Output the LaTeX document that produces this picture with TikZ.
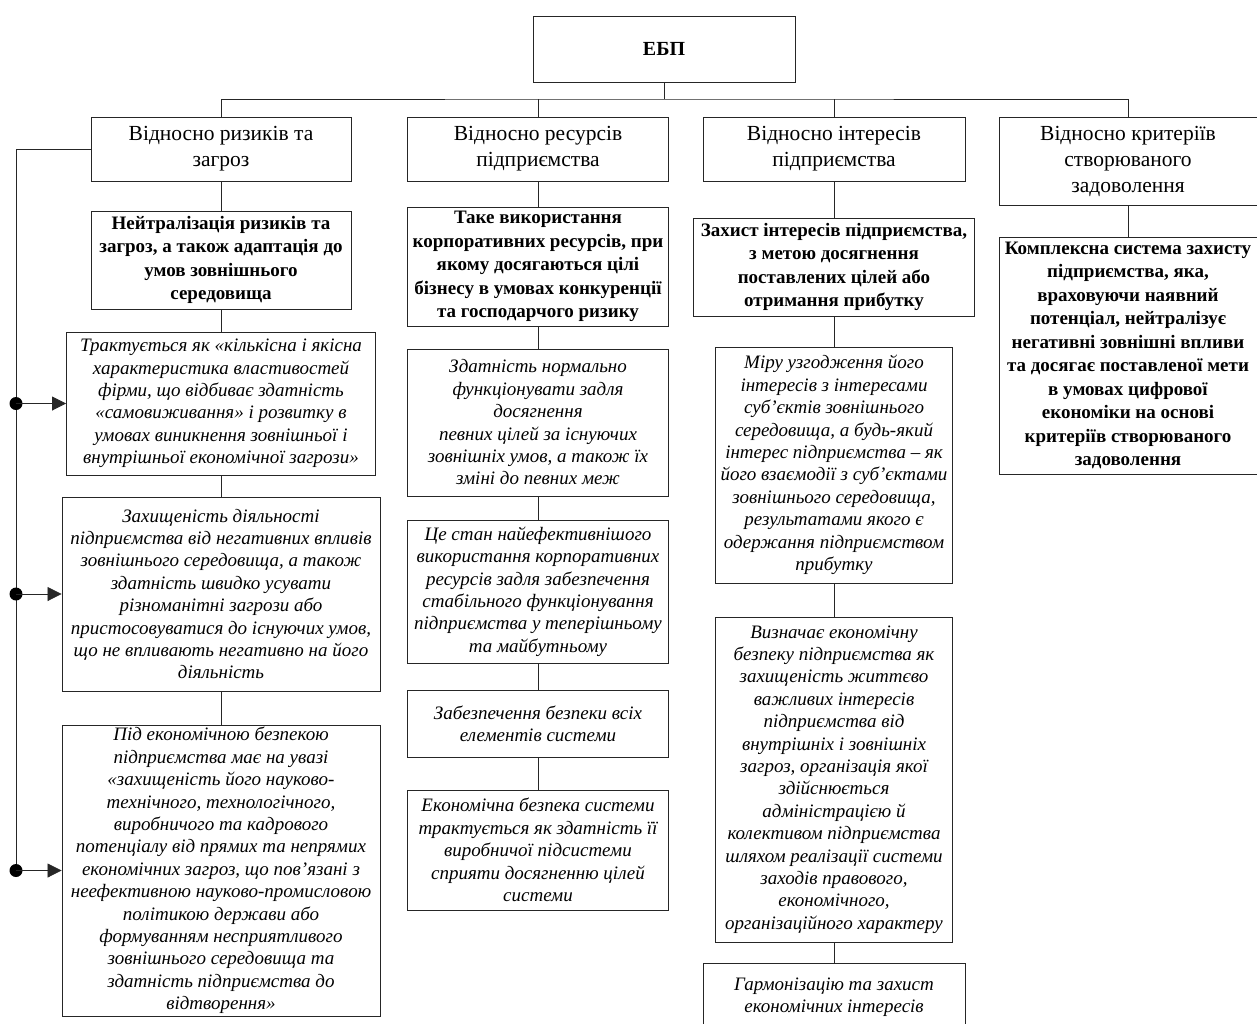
\documentclass[tikz,border=0pt]{standalone}
\usepackage{fontspec}
\setmainfont{Liberation Serif}
\usetikzlibrary{arrows.meta}
\newcommand{\sapos}{{\char"0027}}
\begin{document}
\begin{tikzpicture}[x=1pt,y=-1pt,
  box/.style={draw=black!85, line width=0.9pt, align=center, inner sep=2pt, fill=white},
  hdr/.style={box, font=\fontsize{21.5}{26}\selectfont},
  bbox/.style={box, font=\fontsize{19}{23.5}\selectfont\bfseries},
  ibox/.style={box, font=\fontsize{19}{22.4}\selectfont\itshape},
  wire/.style={draw=black!85, line width=0.8pt},
  arr/.style={wire, -{Triangle[length=14pt,width=14pt]}},
  dot/.style={circle, fill=black, inner sep=0pt, minimum size=13pt}]
\useasboundingbox (0,0) rectangle (1257,1023);
\clip (0,0) rectangle (1257,1023);
\fill[white] (0,0) rectangle (1257,1023);

% top
\node[box, font=\fontsize{20}{24}\selectfont\bfseries, minimum width=262pt, minimum height=66pt] (ebp) at (664,49) {ЕБП};

% headers
\node[hdr, minimum width=260pt, minimum height=64pt] (h1) at (221,149) {Відносно ризиків та\\загроз};
\node[hdr, minimum width=261pt, minimum height=64pt] (h2) at (538,149) {Відносно ресурсів\\підприємства};
\node[hdr, minimum width=262pt, minimum height=64pt] (h3) at (834,149) {Відносно інтересів\\підприємства};
\node[hdr, minimum width=258pt, minimum height=88pt] (h4) at (1128,161) {Відносно критеріїв\\створюваного\\задоволення};

\coordinate (bus) at (664,99);
\draw[wire] (ebp.south) -- (bus);
\draw[wire] (h1.north) |- (bus) -| (h4.north);
\draw[wire] (h2.north) -- (h2.north |- bus);
\draw[wire] (h3.north) -- (h3.north |- bus);

% column 1
\node[bbox, minimum width=260pt, minimum height=98pt] (c1a) at (221,260) {Нейтралізація ризиків та\\загроз, а також адаптація до\\умов зовнішнього\\середовища};
\node[ibox, minimum width=309pt, minimum height=143pt] (c1b) at (221,403.5) {Трактується як «кількісна і якісна\\характеристика властивостей\\фірми, що відбиває здатність\\«самовиживання» і розвитку в\\умовах виникнення зовнішньої і\\внутрішньої економічної загрози»};
\node[ibox, minimum width=318pt, minimum height=194pt] (c1c) at (221,594) {Захищеність діяльності\\підприємства від негативних впливів\\зовнішнього середовища, а також\\здатність швидко усувати\\різноманітні загрози або\\пристосовуватися до існуючих умов,\\що не впливають негативно на його\\діяльність};
\node[ibox, minimum width=318pt, minimum height=291pt] (c1d) at (221,870.5) {Під економічною безпекою\\підприємства має на увазі\\«захищеність його науково-\\технічного, технологічного,\\виробничого та кадрового\\потенціалу від прямих та непрямих\\економічних загроз, що пов’язані з\\неефективною науково-промисловою\\політикою держави або\\формуванням несприятливого\\зовнішнього середовища та\\здатність підприємства до\\відтворення»};
\draw[wire] (h1.south) -- (c1a.north);
\draw[wire] (c1a.south) -- (c1b.north);
\draw[wire] (c1b.south) -- (c1c.north);
\draw[wire] (c1c.south) -- (c1d.north);

% left bracket
\coordinate (lt) at (16,149);
\path (c1b.west -| lt) coordinate (d1);
\path (c1c.west -| lt) coordinate (d2);
\path (c1d.west -| lt) coordinate (d3);
\draw[wire] (h1.west) -- (lt) -- (d3);
\node[dot] (dd1) at (d1) {};
\node[dot] (dd2) at (d2) {};
\node[dot] (dd3) at (d3) {};
\draw[arr] (dd1.center) -- (c1b.west);
\draw[arr] (dd2.center) -- (c1c.west);
\draw[arr] (dd3.center) -- (c1d.west);

% column 2
\node[bbox, minimum width=261pt, minimum height=119pt] (c2a) at (538,266.5) {Таке використання\\корпоративних ресурсів, при\\якому досягаються цілі\\бізнесу в умовах конкуренції\\та господарчого ризику};
\node[ibox, minimum width=261pt, minimum height=147pt] (c2b) at (538,422.5) {Здатність нормально\\функціонувати задля\\досягнення\\певних цілей за існуючих\\зовнішніх умов, а також їх\\зміні до певних меж};
\node[ibox, minimum width=261pt, minimum height=143pt] (c2c) at (538,591.5) {Це стан найефективнішого\\використання корпоративних\\ресурсів задля забезпечення\\стабільного функціонування\\підприємства у теперішньому\\та майбутньому};
\node[ibox, minimum width=261pt, minimum height=67pt] (c2d) at (538,723.5) {Забезпечення безпеки всіх\\елементів системи};
\node[ibox, minimum width=261pt, minimum height=120pt] (c2e) at (538,850) {Економічна безпека системи\\трактується як здатність її\\виробничої підсистеми\\сприяти досягненню цілей\\системи};
\draw[wire] (h2.south) -- (c2a.north);
\draw[wire] (c2a.south) -- (c2b.north);
\draw[wire] (c2b.south) -- (c2c.north);
\draw[wire] (c2c.south) -- (c2d.north);
\draw[wire] (c2d.south) -- (c2e.north);

% column 3
\node[bbox, minimum width=281pt, minimum height=98pt] (c3a) at (834,267) {Захист інтересів підприємства,\\з метою досягнення\\поставлених цілей або\\отримання прибутку};
\node[ibox, minimum width=237pt, minimum height=236pt] (c3b) at (834,465) {Міру узгодження його\\інтересів з інтересами\\суб\sapos єктів зовнішнього\\середовища, а будь-який\\інтерес підприємства – як\\його взаємодії з суб\sapos єктами\\зовнішнього середовища,\\результатами якого є\\одержання підприємством\\прибутку};
\node[ibox, minimum width=237pt, minimum height=325pt] (c3c) at (834,779.5) {Визначає економічну\\безпеку підприємства як\\захищеність життєво\\важливих інтересів\\підприємства від\\внутрішніх і зовнішніх\\загроз, організація якої\\здійснюється\\адміністрацією й\\колективом підприємства\\шляхом реалізації системи\\заходів правового,\\економічного,\\організаційного характеру};
\node[ibox, minimum width=262pt, minimum height=68pt] (c3d) at (834,997) {Гармонізацію та захист\\економічних інтересів};
\draw[wire] (h3.south) -- (c3a.north);
\draw[wire] (c3a.south) -- (c3b.north);
\draw[wire] (c3b.south) -- (c3c.north);
\draw[wire] (c3c.south) -- (c3d.north);

% column 4
\node[bbox, minimum width=258pt, minimum height=237pt] (c4a) at (1128,355.5) {Комплексна система захисту\\підприємства, яка,\\враховуючи наявний\\потенціал, нейтралізує\\негативні зовнішні впливи\\та досягає поставленої мети\\в умовах цифрової\\економіки на основі\\критеріїв створюваного\\задоволення};
\draw[wire] (h4.south) -- (c4a.north);
\end{tikzpicture}
\end{document}
